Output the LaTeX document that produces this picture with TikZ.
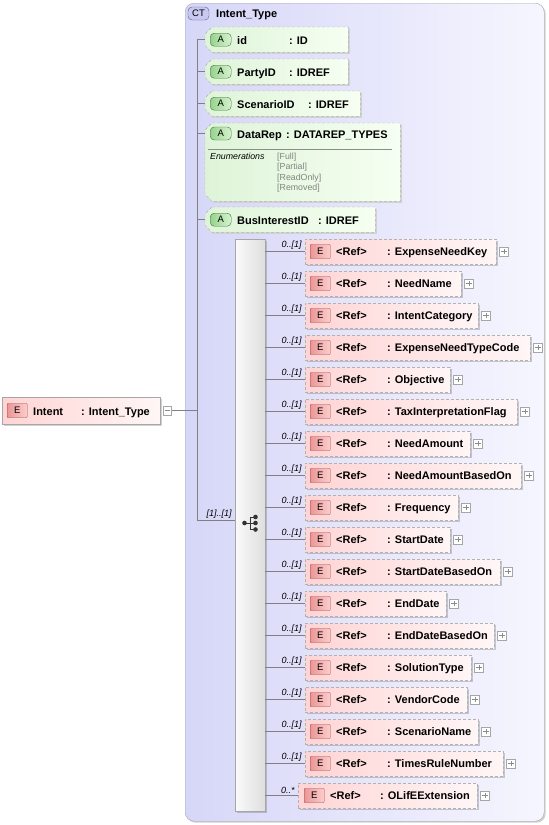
\documentclass[tikz,border=0pt]{standalone}
\usepackage{fontspec}
\setmainfont{Liberation Sans}
\usetikzlibrary{shadows}
\definecolor{ctL}{RGB}{214,214,248}
\definecolor{ctR}{RGB}{246,246,255}
\definecolor{ctBadge}{RGB}{200,200,240}
\definecolor{ctBadgeB}{RGB}{90,90,150}
\definecolor{elL}{RGB}{255,212,212}
\definecolor{elR}{RGB}{255,246,246}
\definecolor{ebL}{RGB}{236,150,150}
\definecolor{ebR}{RGB}{252,205,205}
\definecolor{ebB}{RGB}{160,70,70}
\definecolor{atL}{RGB}{222,244,216}
\definecolor{atR}{RGB}{246,255,242}
\definecolor{abL}{RGB}{150,210,140}
\definecolor{abR}{RGB}{215,242,208}
\definecolor{abB}{RGB}{60,120,60}
\definecolor{seqL}{RGB}{250,250,250}
\definecolor{seqR}{RGB}{222,222,222}
\definecolor{linec}{RGB}{128,128,128}
\definecolor{enumc}{RGB}{130,130,130}
\newcommand\attrshape[1]{%
  \fill[black!18] ([xshift=8.5pt,yshift=-1.5pt]#1.north west) -- ([xshift=1.5pt,yshift=-1.5pt]#1.north east) -- ([xshift=1.5pt,yshift=-1.5pt]#1.south east) -- ([xshift=8.5pt,yshift=-1.5pt]#1.south west) -- ([xshift=1.5pt,yshift=5.5pt]#1.south west) -- ([xshift=1.5pt,yshift=-8.5pt]#1.north west) -- cycle;
  \path[left color=atL, right color=atR, draw=black!30, dash pattern=on 3pt off 2pt] ([xshift=7pt]#1.north west) -- (#1.north east) -- (#1.south east) -- ([xshift=7pt]#1.south west) -- ([yshift=7pt]#1.south west) -- ([yshift=-7pt]#1.north west) -- cycle;}
\begin{document}
\begin{tikzpicture}[x=1pt,y=-1pt,
  conn/.style={draw=linec, line width=0.6pt},
  shad/.style={drop shadow={shadow xshift=1.5pt, shadow yshift=-1.5pt, fill=black, opacity=0.18}},
  ctbox/.style={draw=black!35, rounded corners=9pt, left color=ctL, right color=ctR, inner sep=0, shad},
  ctbadge/.style={draw=ctBadgeB, fill=ctBadge, rounded corners=4pt, minimum width=21pt, minimum height=13pt, inner sep=0, font=\fontsize{9.5}{10}\selectfont},
  seqbox/.style={draw=black!35, left color=seqL, right color=seqR, inner sep=0, shad},
  elbox/.style={draw=black!30, dash pattern=on 3pt off 2pt, left color=elL, right color=elR, minimum height=25pt, inner sep=0, shad},
  intbox/.style={draw=black!35, left color=elL, right color=elR, inner sep=0, shad},
  ebadge/.style={draw=ebB, left color=ebL, right color=ebR, minimum width=20pt, minimum height=14pt, inner sep=0, rounded corners=0.8pt, font=\fontsize{9.5}{10}\selectfont},
  attrnode/.style={inner sep=0, draw=none},
  abadge/.style={draw=abB, left color=abL, right color=abR, minimum width=21pt, minimum height=13pt, inner sep=0, rounded corners=4pt, font=\fontsize{9.5}{10}\selectfont},
  eltext/.style={font=\fontsize{11}{13}\selectfont\bfseries, inner sep=0, anchor=base west},
  mult/.style={font=\fontsize{9}{10}\selectfont\itshape, inner sep=1pt},
  enumt/.style={font=\fontsize{8.8}{10}\selectfont, text=enumc, inner sep=0, anchor=base west},
  plusbox/.style={draw=black!35, fill=white, minimum width=8.5pt, minimum height=8.5pt, inner sep=0},
  plusline/.style={draw=black!45, line width=0.5pt}
]
\useasboundingbox (0,0) rectangle (549,825);
% container
\node[ctbox, minimum width=359pt, minimum height=818pt, anchor=north west] (ct) at (185,3) {};
\node[ctbadge] (ctb) at (198.5,13.5) {CT};
\node[eltext] (cttitle) at (216,17.5) {Intent\_Type};
% trunk
\coordinate (ttop) at (197,39.5);
\coordinate (tseq) at (197,520.5);
\draw[conn] (ttop) -- (tseq);
% attributes
\node[attrnode, minimum width=143pt, minimum height=25pt, anchor=north west] (aid) at (205,27) {};
\attrshape{aid}
\node[abadge, anchor=west] (abid) at ([xshift=5pt]aid.west) {A};
\node[eltext] (tid) at (237,44) {id};
\node[eltext] (tidt) at (289,44) {: ID};
\draw[conn] (ttop |- aid.west) -- (aid.west);

\node[attrnode, minimum width=143pt, minimum height=25pt, anchor=north west] (apid) at (205,59) {};
\attrshape{apid}
\node[abadge, anchor=west] (abpid) at ([xshift=5pt]apid.west) {A};
\node[eltext] (tpid) at (237,76) {PartyID};
\node[eltext] (tpidt) at (289,76) {: IDREF};
\draw[conn] (ttop |- apid.west) -- (apid.west);

\node[attrnode, minimum width=155pt, minimum height=25pt, anchor=north west] (asid) at (205,91) {};
\attrshape{asid}
\node[abadge, anchor=west] (absid) at ([xshift=5pt]asid.west) {A};
\node[eltext] (tsid) at (237,108) {ScenarioID};
\node[eltext] (tsidt) at (308,108) {: IDREF};
\draw[conn] (ttop |- asid.west) -- (asid.west);

\node[attrnode, minimum width=195pt, minimum height=78pt, anchor=north west] (adr) at (205,123) {};
\attrshape{adr}
\node[abadge, anchor=west] (abdr) at (210,133.5) {A};
\node[eltext] (tdr) at (237,138) {DataRep};
\node[eltext] (tdrt) at (286,138) {: DATAREP\_TYPES};
\draw[draw=black!45, line width=0.5pt] (208,149.5) -- (392,149.5);
\node[enumt, font=\fontsize{8.8}{10}\selectfont\itshape, text=black] (enl) at (210,159.5) {Enumerations};
\node[enumt] (en1) at (277,159) {[Full]};
\node[enumt] (en2) at (277,169.5) {[Partial]};
\node[enumt] (en3) at (277,180) {[ReadOnly]};
\node[enumt] (en4) at (277,190.5) {[Removed]};
\coordinate (drtick) at (205,133.5);
\draw[conn] (ttop |- drtick) -- (drtick);

\node[attrnode, minimum width=170pt, minimum height=25pt, anchor=north west] (abi) at (205,207) {};
\attrshape{abi}
\node[abadge, anchor=west] (abbi) at ([xshift=5pt]abi.west) {A};
\node[eltext] (tbi) at (237,224) {BusInterestID};
\node[eltext] (tbit) at (318,224) {: IDREF};
\draw[conn] (ttop |- abi.west) -- (abi.west);

% root element
\node[intbox, minimum width=158pt, minimum height=27pt, anchor=west] (intent) at (2,410.5) {};
\node[ebadge, anchor=west] (intb) at ([xshift=5pt]intent.west) {E};
\node[eltext] (tint) at (33,415) {Intent};
\node[eltext] (tintt) at (81,415) {: Intent\_Type};
\node[plusbox, anchor=west] (imin) at ([xshift=2.5pt]intent.east) {};
\draw[plusline] ([xshift=2pt]imin.west) -- ([xshift=-2pt]imin.east);
\draw[conn] (imin.east) -- (imin.east -| ttop);

% sequence
\node[seqbox, minimum width=30pt, minimum height=572pt, anchor=north west] (seq) at (235,239) {};
\draw[conn] (tseq) -- (tseq -| seq.west) node[mult, pos=1, anchor=south east, xshift=-2pt, yshift=0.5pt] {[1]..[1]};
% sequence icon
\coordinate (sic) at (250,523);
\draw[black!80, line width=0.9pt] (244.5,523) -- (250,523) (250,517) -- (250,529.5) (250,517) -- (255.5,517) (250,523) -- (255.5,523) (250,529.5) -- (255.5,529.5);
\fill[black!80] (244.5,523) circle [radius=2.3pt];
\fill[black!80] (255.5,517) circle [radius=2.3pt];
\fill[black!80] (255.5,523) circle [radius=2.3pt];
\fill[black!80] (255.5,529.5) circle [radius=2.3pt];

% child elements
\foreach \n/\r [count=\i] in {ExpenseNeedKey/496, NeedName/461, IntentCategory/478, ExpenseNeedTypeCode/530, Objective/450, TaxInterpretationFlag/517, NeedAmount/470, NeedAmountBasedOn/521, Frequency/458, StartDate/450, StartDateBasedOn/500, EndDate/446, EndDateBasedOn/494, SolutionType/471, VendorCode/467, ScenarioName/478, TimesRuleNumber/503}{
  \pgfmathsetmacro\yy{219.5+32*\i}
  \pgfmathsetmacro\ww{\r-305}
  \node[elbox, minimum width=\ww pt, anchor=west] (e\i) at (305,\yy) {};
  \node[ebadge, anchor=west] (eb\i) at ([xshift=5pt]e\i.west) {E};
  \node[eltext] (er\i) at (336,\yy+4) {<Ref>};
  \node[eltext] (et\i) at (387,\yy+4) {: \n};
  \node[plusbox, anchor=west] (p\i) at ([xshift=3pt]e\i.east) {};
  \draw[plusline] ([xshift=1.8pt]p\i.west) -- ([xshift=-1.8pt]p\i.east) ([yshift=-1.8pt]p\i.north) -- ([yshift=1.8pt]p\i.south);
  \draw[conn] (seq.east |- e\i.west) -- (e\i.west) node[mult, pos=1, anchor=south east, xshift=-2pt, yshift=0.5pt] {0..[1]};
}
% last element
\node[elbox, minimum width=179pt, anchor=west] (elx) at (298,795.5) {};
\node[ebadge, anchor=west] (ebx) at ([xshift=6pt]elx.west) {E};
\node[eltext] (erx) at (330,799.5) {<Ref>};
\node[eltext] (etx) at (380,799.5) {: OLifEExtension};
\node[plusbox, anchor=west] (px) at ([xshift=3pt]elx.east) {};
\draw[plusline] ([xshift=1.8pt]px.west) -- ([xshift=-1.8pt]px.east) ([yshift=-1.8pt]px.north) -- ([yshift=1.8pt]px.south);
\draw[conn] (seq.east |- elx.west) -- (elx.west) node[mult, pos=1, anchor=south east, xshift=-2pt, yshift=0.5pt] {0..*};
\end{tikzpicture}
\end{document}
